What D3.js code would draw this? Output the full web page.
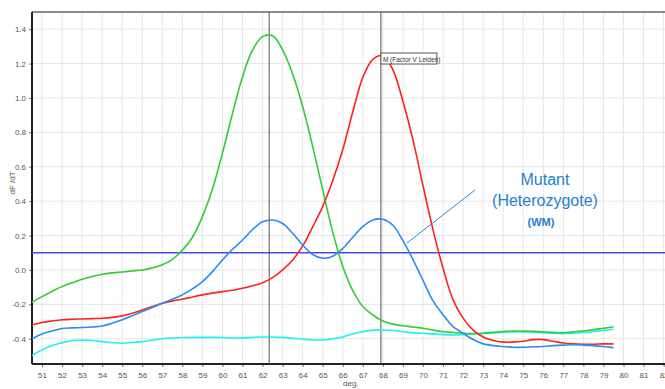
<!DOCTYPE html>
<html lang="en">
<head>
<meta charset="UTF-8">
<title>Melt curve</title>
<script src="https://cdn.jsdelivr.net/npm/d3@7/dist/d3.min.js"></script>
<style>
  body { margin: 0; background: #fff; }
  svg { display: block; font-family: "Liberation Sans", Arial, sans-serif; }
</style>
</head>
<body>
<svg id="chart" width="665" height="389"></svg>
<script>
// temperatures (deg), one value every 0.5 deg
var temps = d3.range(50.5, 79.51, 0.5);

// dF/dT series
var green = [-0.188,-0.155,-0.125,-0.097,-0.075,-0.054,-0.038,-0.025,-0.017,-0.012,
  -0.006,0.0,0.012,0.03,0.062,0.115,0.19,0.31,0.47,0.68,
  0.91,1.124,1.279,1.357,1.362,1.28,1.14,0.95,0.717,0.465,
  0.22,0.02,-0.12,-0.213,-0.262,-0.297,-0.315,-0.325,-0.332,-0.339,
  -0.35,-0.359,-0.364,-0.368,-0.37,-0.368,-0.363,-0.358,-0.355,-0.355,
  -0.357,-0.36,-0.363,-0.365,-0.36,-0.355,-0.347,-0.34,-0.33];
var red = [-0.32,-0.306,-0.297,-0.29,-0.287,-0.285,-0.283,-0.281,-0.276,-0.267,
  -0.252,-0.233,-0.213,-0.194,-0.18,-0.17,-0.157,-0.145,-0.135,-0.126,
  -0.118,-0.107,-0.092,-0.074,-0.045,0.0,0.058,0.14,0.25,0.37,
  0.52,0.70,0.92,1.12,1.225,1.245,1.163,0.98,0.756,0.49,
  0.233,0.01,-0.174,-0.28,-0.35,-0.39,-0.41,-0.42,-0.42,-0.415,
  -0.405,-0.405,-0.415,-0.425,-0.43,-0.432,-0.432,-0.43,-0.43];
var blue = [-0.40,-0.372,-0.355,-0.341,-0.337,-0.335,-0.332,-0.326,-0.31,-0.29,
  -0.266,-0.242,-0.218,-0.194,-0.17,-0.145,-0.11,-0.068,-0.01,0.058,
  0.12,0.174,0.235,0.28,0.29,0.27,0.213,0.145,0.09,0.068,
  0.08,0.125,0.19,0.252,0.29,0.295,0.26,0.17,0.06,-0.06,
  -0.18,-0.26,-0.33,-0.368,-0.405,-0.43,-0.44,-0.445,-0.45,-0.45,
  -0.447,-0.445,-0.44,-0.437,-0.435,-0.437,-0.44,-0.445,-0.452];
var cyan = [-0.498,-0.465,-0.44,-0.423,-0.41,-0.407,-0.41,-0.417,-0.423,-0.426,
  -0.422,-0.417,-0.408,-0.40,-0.396,-0.393,-0.392,-0.392,-0.392,-0.393,
  -0.396,-0.395,-0.392,-0.39,-0.39,-0.392,-0.397,-0.402,-0.407,-0.407,
  -0.4,-0.39,-0.372,-0.359,-0.35,-0.349,-0.352,-0.359,-0.366,-0.368,
  -0.372,-0.376,-0.378,-0.376,-0.372,-0.37,-0.366,-0.362,-0.36,-0.36,
  -0.362,-0.365,-0.368,-0.37,-0.368,-0.364,-0.358,-0.352,-0.345];

var seriesNames = ["cyan", "green", "red", "blue"];
var seriesColors = ["#1ff0f0", "#33cc33", "#ff2020", "#2b8cf2"];
var seriesValues = [cyan, green, red, blue];

var xTicks = d3.range(51, 83);
var yTicks = [-0.4, -0.2, 0.0, 0.2, 0.4, 0.6, 0.8, 1.0, 1.2, 1.4];
var threshold = 0.1;
var markers = [62.33, 67.9];
var markerLabel = "M (Factor V Leiden)";
var noteLines = ["Mutant", "(Heterozygote)", "(WM)"];

(function() {
  var svg = d3.select("#chart");
  var pLeft = 32, pRight = 665, pTop = 12, pBottom = 364;

  var x = d3.scaleLinear().domain([50.5, 82.07]).range([pLeft, pRight]);
  var y = d3.scaleLinear().domain([-0.547, 1.5]).range([pBottom, pTop]);

  // grid
  var grid = svg.append("g").attr("stroke", "#e6e6e6").attr("stroke-width", 1);
  grid.selectAll(".gx").data(xTicks).enter().append("line")
    .attr("x1", d => x(d)).attr("x2", d => x(d)).attr("y1", pTop).attr("y2", pBottom);
  grid.selectAll(".gy").data(yTicks).enter().append("line")
    .attr("x1", pLeft).attr("x2", pRight).attr("y1", d => y(d)).attr("y2", d => y(d));

  // axes
  var xAxis = svg.append("g").attr("transform", "translate(0," + pBottom + ")")
    .call(d3.axisBottom(x).tickValues(xTicks).tickSize(3).tickFormat(d => d));
  var yAxis = svg.append("g").attr("transform", "translate(" + pLeft + ",0)")
    .call(d3.axisLeft(y).tickValues(yTicks).tickSize(3).tickFormat(d => d.toFixed(1)));
  [xAxis, yAxis].forEach(function(a) {
    a.select(".domain").remove();
    a.selectAll(".tick line").attr("stroke", "#777");
    a.selectAll("text").attr("fill", "#555").style("font-size", "8px");
  });
  xAxis.selectAll("text").attr("dy", "0.95em");

  // frame lines
  svg.append("line").attr("x1", pLeft).attr("x2", pRight).attr("y1", pTop).attr("y2", pTop)
    .attr("stroke", "#666").attr("stroke-width", 1.5);
  svg.append("line").attr("x1", pLeft).attr("x2", pLeft).attr("y1", pTop).attr("y2", pBottom)
    .attr("stroke", "#222").attr("stroke-width", 2);
  svg.append("line").attr("x1", pLeft).attr("x2", pRight).attr("y1", pBottom).attr("y2", pBottom)
    .attr("stroke", "#222").attr("stroke-width", 2);

  // axis titles
  svg.append("text").attr("x", 343).attr("y", 386).attr("fill", "#555")
    .style("font-size", "8px").text("deg.");
  svg.append("text").attr("transform", "translate(15,183) rotate(-90)")
    .attr("text-anchor", "middle").attr("fill", "#555").style("font-size", "8px").text("dF /dT");

  // marker lines
  svg.selectAll(".marker").data(markers).enter().append("line")
    .attr("x1", d => x(d)).attr("x2", d => x(d)).attr("y1", pTop).attr("y2", pBottom)
    .attr("stroke", "#555").attr("stroke-width", 1);

  // threshold
  svg.append("line").attr("x1", pLeft).attr("x2", pRight)
    .attr("y1", y(threshold)).attr("y2", y(threshold))
    .attr("stroke", "#4a4ae0").attr("stroke-width", 1.5);

  // curves
  var line = d3.line().x((d, i) => x(temps[i])).y(d => y(d)).curve(d3.curveCatmullRom);
  svg.selectAll(".curve").data(seriesValues).enter().append("path")
    .attr("d", line).attr("fill", "none")
    .attr("stroke", (d, i) => seriesColors[i]).attr("stroke-width", 1.6);

  // marker label box
  var bx = x(markers[1]);
  svg.append("rect").attr("x", bx).attr("y", 53).attr("width", 56).attr("height", 11)
    .attr("fill", "#fff").attr("stroke", "#555").attr("stroke-width", 1);
  svg.append("text").attr("x", bx + 2).attr("y", 61.5).attr("fill", "#333")
    .style("font-size", "6.5px").text(markerLabel);

  // annotation
  svg.append("line").attr("x1", 407).attr("y1", 243).attr("x2", 475).attr("y2", 190)
    .attr("stroke", "#2a8ad8").attr("stroke-width", 1);
  svg.append("text").attr("x", 545).attr("y", 185).attr("text-anchor", "middle")
    .attr("fill", "#1f7fd0").style("font-size", "16px").text(noteLines[0]);
  svg.append("text").attr("x", 545).attr("y", 206).attr("text-anchor", "middle")
    .attr("fill", "#1f7fd0").style("font-size", "16px").text(noteLines[1]);
  svg.append("text").attr("x", 541).attr("y", 226).attr("text-anchor", "middle")
    .attr("fill", "#1f7fd0").style("font-size", "11px").style("font-weight", "bold").text(noteLines[2]);
})();
</script>
</body>
</html>
